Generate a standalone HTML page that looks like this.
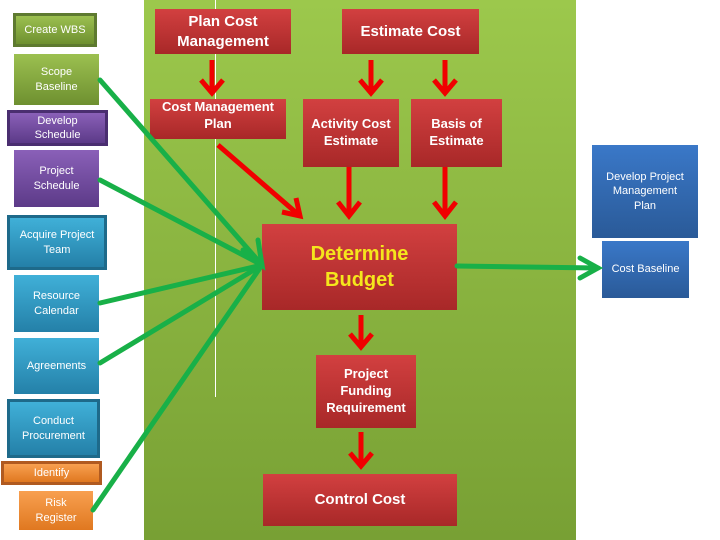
<!DOCTYPE html>
<html><head><meta charset="utf-8"><style>
body{margin:0;width:720px;height:540px;background:#fff;position:relative;overflow:hidden;font-family:"Liberation Sans",sans-serif}
.b{position:absolute;display:flex;align-items:center;justify-content:center;text-align:center;color:#fff;box-sizing:border-box;line-height:1.3}
.r{background:linear-gradient(#d24040,#a82828);font-weight:bold}
.g{background:linear-gradient(#9cc050,#6e9030)}
.p{background:linear-gradient(#8a60b8,#5c3a88)}
.c{background:linear-gradient(#40b0d8,#2480a8)}
.o{background:linear-gradient(#f8a050,#e07820)}
.bl{background:linear-gradient(#3a78c8,#2a5a98)}
.s{font-size:11px}
</style></head><body>
<div style="position:absolute;left:144px;top:0;width:432px;height:540px;background:linear-gradient(#9cc84c,#78a034)"></div>
<div style="position:absolute;left:215px;top:0;width:1px;height:397px;background:#fff"></div>

<div class="b g s" style="left:13px;top:13px;width:84px;height:34px;border:3px solid #5e7a30">Create WBS</div>
<div class="b g s" style="left:14px;top:54px;width:85px;height:51px">Scope<br>Baseline</div>
<div class="b p s" style="left:7px;top:110px;width:101px;height:36px;border:3px solid #4a2e70">Develop<br>Schedule</div>
<div class="b p s" style="left:14px;top:150px;width:85px;height:57px">Project<br>Schedule</div>
<div class="b c s" style="left:7px;top:215px;width:100px;height:55px;border:3px solid #1e6a8a">Acquire Project<br>Team</div>
<div class="b c s" style="left:14px;top:275px;width:85px;height:57px">Resource<br>Calendar</div>
<div class="b c s" style="left:14px;top:338px;width:85px;height:56px">Agreements</div>
<div class="b c s" style="left:7px;top:399px;width:93px;height:59px;border:3px solid #1e6a8a">Conduct<br>Procurement</div>
<div class="b o s" style="left:1px;top:461px;width:101px;height:24px;border:3px solid #b05a20">Identify</div>
<div class="b o s" style="left:19px;top:491px;width:74px;height:39px">Risk<br>Register</div>

<div class="b r" style="left:155px;top:9px;width:136px;height:45px;font-size:15px">Plan Cost<br>Management</div>
<div class="b r" style="left:150px;top:99px;width:136px;height:40px;font-size:13px;align-items:flex-start">Cost Management<br>Plan</div>
<div class="b r" style="left:342px;top:9px;width:137px;height:45px;font-size:15px">Estimate Cost</div>
<div class="b r" style="left:303px;top:99px;width:96px;height:68px;font-size:13px">Activity Cost<br>Estimate</div>
<div class="b r" style="left:411px;top:99px;width:91px;height:68px;font-size:13px">Basis of<br>Estimate</div>
<div class="b r" style="left:262px;top:224px;width:195px;height:86px;font-size:20px;color:#f5e61c">Determine<br>Budget</div>
<div class="b r" style="left:316px;top:355px;width:100px;height:73px;font-size:13px">Project<br>Funding<br>Requirement</div>
<div class="b r" style="left:263px;top:474px;width:194px;height:52px;font-size:15px">Control Cost</div>
<div class="b bl s" style="left:592px;top:145px;width:106px;height:93px">Develop Project<br>Management<br>Plan</div>
<div class="b bl s" style="left:602px;top:241px;width:87px;height:57px">Cost Baseline</div>

<svg width="720" height="540" style="position:absolute;left:0;top:0">
<g stroke="#18b048" stroke-width="5" fill="none" stroke-linecap="round">
<line x1="100" y1="80" x2="262" y2="265"/>
<line x1="100" y1="180" x2="262" y2="265"/>
<line x1="100" y1="303" x2="262" y2="265"/>
<line x1="100" y1="363" x2="262" y2="265"/>
<line x1="93" y1="510" x2="262" y2="265"/>
<polyline points="243,250 262,265 258,240"/>
<line x1="457" y1="266" x2="598" y2="268"/>
<polyline points="580,258 598,268 580,278"/>
</g>
<g stroke="#f00000" stroke-width="5" fill="none">
<line x1="212" y1="60" x2="212" y2="92"/><polyline points="201,80 212,93 223,80"/>
<line x1="371" y1="60" x2="371" y2="92"/><polyline points="360,80 371,93 382,80"/>
<line x1="445" y1="60" x2="445" y2="92"/><polyline points="434,80 445,93 456,80"/>
<line x1="218" y1="145" x2="300" y2="216"/><polyline points="282,212 300,216 296,198"/>
<line x1="349" y1="167" x2="349" y2="216"/><polyline points="338,202 349,216 360,202"/>
<line x1="445" y1="167" x2="445" y2="216"/><polyline points="434,202 445,216 456,202"/>
<line x1="361" y1="315" x2="361" y2="347"/><polyline points="350,334 361,347 372,334"/>
<line x1="361" y1="432" x2="361" y2="466"/><polyline points="350,453 361,466 372,453"/>
</g>
</svg>
</body></html>
